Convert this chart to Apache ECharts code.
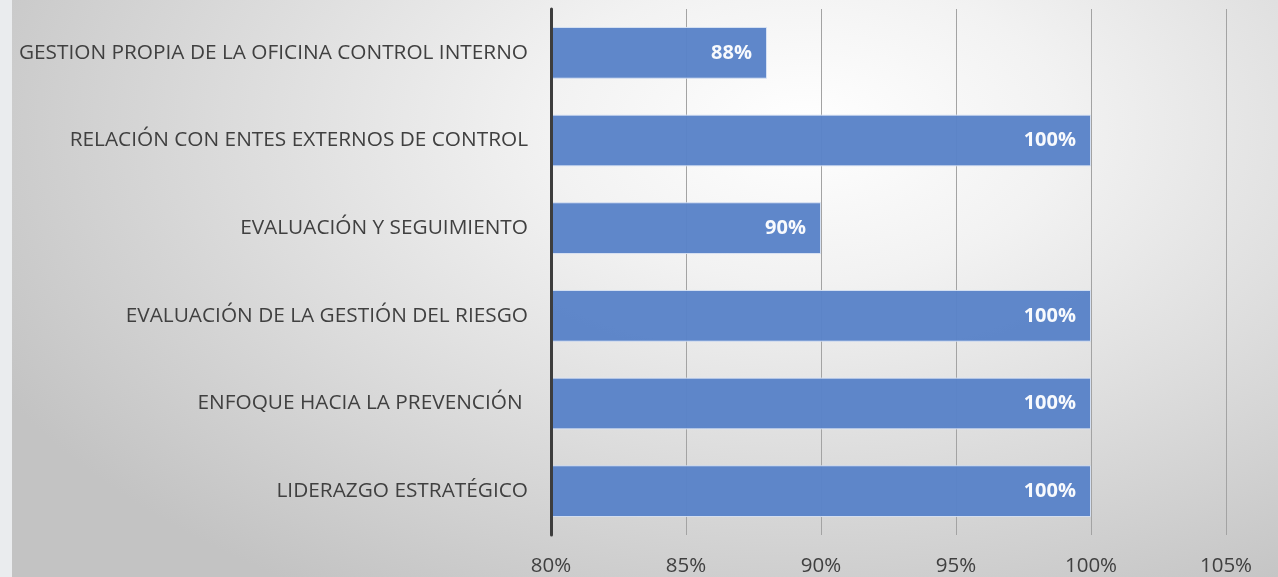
<!DOCTYPE html>
<html>
<head>
<meta charset="utf-8">
<script src="https://cdn.jsdelivr.net/npm/echarts@6/dist/echarts.min.js"></script>
<style>
    html, body {
        margin: 0;
        padding: 0;
        width: 1278px;
        height: 577px;
        overflow: hidden;
    }
    #wrap {
        position: relative;
        width: 1278px;
        height: 577px;
        background: radial-gradient(ellipse 72% 95% at 63% 22%, #ffffff 0%, #f2f2f2 28%, #dcdcdc 62%, #c3c3c3 100%);
    }
    #strip {
        position: absolute;
        left: 0;
        top: 0;
        width: 12px;
        height: 577px;
        background: #eaecee;
    }
    #chart {
        position: absolute;
        left: 0;
        top: 0;
        width: 1278px;
        height: 577px;
    }
</style>
</head>
<body>
<div id="wrap">
    <div id="strip"></div>
    <div id="chart"></div>
</div>
<script>
// categorias de abajo hacia arriba (eje y de echarts empieza abajo)
const categories = [
    'LIDERAZGO ESTRATÉGICO',
    'ENFOQUE HACIA LA PREVENCIÓN ',
    'EVALUACIÓN DE LA GESTIÓN DEL RIESGO',
    'EVALUACIÓN Y SEGUIMIENTO',
    'RELACIÓN CON ENTES EXTERNOS DE CONTROL',
    'GESTION PROPIA DE LA OFICINA CONTROL INTERNO'
]
const values = [1.00, 1.00, 1.00, 0.90, 1.00, 0.88]
const x_min = 0.80
const x_max = 1.05
const x_step = 0.05

const myChart = echarts.init(document.getElementById('chart'))

function pct (v) {
    return Math.round(v * 100) + '%'
}

const option = {
    animation: false,
    backgroundColor: 'transparent',
    grid: {
        left: 551,
        right: 52,
        top: 9,
        bottom: 42
    },
    xAxis: {
        type: 'value',
        min: x_min,
        max: x_max,
        interval: x_step,
        axisLine: { show: false },
        axisTick: { show: false },
        axisLabel: {
            formatter: pct,
            color: '#404040',
            fontSize: 20.5,
            fontFamily: 'Open Sans',
            margin: 21
        },
        splitLine: {
            show: true,
            lineStyle: { color: '#a3a3a3', width: 1 }
        }
    },
    yAxis: {
        type: 'category',
        data: categories,
        z: 5,
        axisLine: {
            show: true,
            lineStyle: { color: '#3d3d3d', width: 3 }
        },
        axisTick: { show: false },
        axisLabel: {
            color: '#404040',
            fontSize: 20.8,
            fontFamily: 'Open Sans',
            margin: 23
        }
    },
    series: [
        {
            type: 'bar',
            data: values,
            barCategoryGap: '41%',
            itemStyle: {
                color: '#5882c8',
                opacity: 0.96,
                borderColor: 'rgba(220,230,245,0.9)',
                borderWidth: 1
            },
            label: {
                show: true,
                position: 'insideRight',
                distance: 15,
                formatter: function (p) { return pct(p.value) },
                color: '#ffffff',
                fontWeight: 'bold',
                fontSize: 20,
                fontFamily: 'Open Sans'
            }
        }
    ]
}
option && myChart.setOption(option)
</script>
</body>
</html>
